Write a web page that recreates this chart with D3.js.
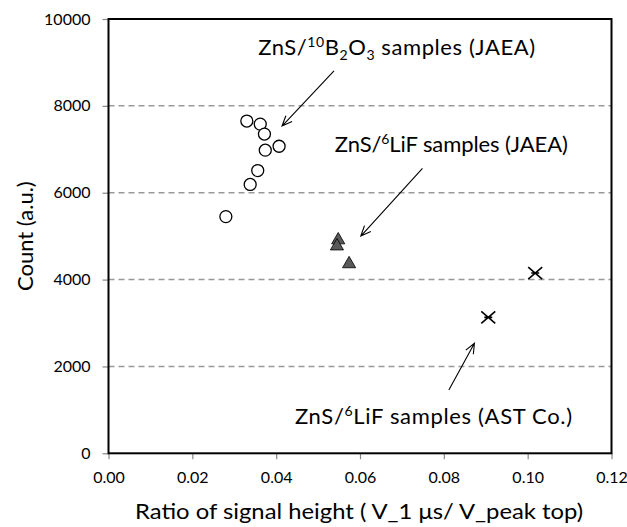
<!DOCTYPE html>
<html>
<head>
<meta charset="utf-8">
<script src="https://cdn.jsdelivr.net/npm/d3@7"></script>
<style>
  body { margin: 0; background: #fff; }
  svg text { font-family: Lato, "Open Sans", sans-serif; fill: #000; }
</style>
</head>
<body>
<svg id="chart" width="627" height="527"></svg>
<script>
// Scatter: signal height ratio vs count for three sample groups

const xTicks = [0, 0.02, 0.04, 0.06, 0.08, 0.10, 0.12];
const yTicks = [0, 2000, 4000, 6000, 8000, 10000];

// ZnS/10B2O3 samples (JAEA) - open circles
const b2o3X = [0.0330, 0.0362, 0.0372, 0.0374, 0.0407, 0.0356, 0.0338, 0.0280];
const b2o3Y = [7650, 7580, 7350, 6980, 7070, 6510, 6190, 5450];

// ZnS/6LiF samples (JAEA) - grey triangles
const lifJaeaX = [0.0548, 0.0545, 0.0574];
const lifJaeaY = [4910, 4770, 4360];

// ZnS/6LiF samples (AST Co.) - crosses
const astX = [0.0906, 0.1018];
const astY = [3130, 4150];

const width = 627, height = 527;
const margin = {top: 19, right: 15.5, bottom: 73.7, left: 108.5};

const svg = d3.select("#chart");

const x = d3.scaleLinear()
  .domain([0, 0.12])
  .range([margin.left, width - margin.right]);

const y = d3.scaleLinear()
  .domain([0, 10000])
  .range([height - margin.bottom, margin.top]);

// dashed gridlines
svg.append("g")
  .selectAll("line")
  .data(yTicks.filter(d => d > 0 && d < 10000))
  .join("line")
  .attr("x1", x(0))
  .attr("x2", x(0.12))
  .attr("y1", d => y(d))
  .attr("y2", d => y(d))
  .attr("stroke", "#999")
  .attr("stroke-width", 1.5)
  .attr("stroke-dasharray", "6,4");

// axes
const xAxis = svg.append("g")
  .attr("transform", `translate(0,${y(0)})`)
  .call(d3.axisBottom(x).tickValues(xTicks).tickFormat(d3.format(".2f")).tickSize(6).tickPadding(12));

const yAxis = svg.append("g")
  .attr("transform", `translate(${x(0)},0)`)
  .call(d3.axisLeft(y).tickValues(yTicks).tickFormat(d3.format("d")).tickSize(6).tickPadding(12));

[xAxis, yAxis].forEach(a => {
  a.select(".domain").remove();
  a.selectAll(".tick line").attr("stroke", "#888").attr("stroke-width", 1.2);
  a.selectAll(".tick text").style("font-size", "16px").style("font-family", "Lato, sans-serif").attr("fill", "#000");
});

// plot frame
svg.append("rect")
  .attr("x", x(0))
  .attr("y", y(10000))
  .attr("width", x(0.12) - x(0))
  .attr("height", y(0) - y(10000))
  .attr("fill", "none")
  .attr("stroke", "#000")
  .attr("stroke-width", 2);

// axis labels
svg.append("text")
  .attr("x", 135)
  .attr("y", 519)
  .attr("textLength", 448)
  .attr("lengthAdjust", "spacingAndGlyphs")
  .style("font-size", "22px")
  .text("Ratio of signal height ( V_1 \u03bcs/ V_peak top)");

svg.append("text")
  .attr("transform", "rotate(-90)")
  .attr("x", -(y(0) + y(10000)) / 2)
  .attr("y", 33)
  .attr("text-anchor", "middle")
  .style("font-size", "22px")
  .text("Count (a.u.)");

// markers
const g = svg.append("g");

g.selectAll("circle")
  .data(d3.zip(b2o3X, b2o3Y))
  .join("circle")
  .attr("cx", d => x(d[0]))
  .attr("cy", d => y(d[1]))
  .attr("r", 6)
  .attr("fill", "#fff")
  .attr("stroke", "#000")
  .attr("stroke-width", 1.3);

const tri = d3.symbol().type(d3.symbolTriangle).size(75);
g.selectAll("path.tri")
  .data(d3.zip(lifJaeaX, lifJaeaY))
  .join("path")
  .attr("class", "tri")
  .attr("transform", d => `translate(${x(d[0])},${y(d[1])})`)
  .attr("d", tri)
  .attr("fill", "#595959")
  .attr("stroke", "#000")
  .attr("stroke-width", 0.8);

const crosses = g.selectAll("g.cross")
  .data(d3.zip(astX, astY))
  .join("g")
  .attr("class", "cross")
  .attr("transform", d => `translate(${x(d[0])},${y(d[1])})`);
crosses.append("path")
  .attr("d", "M-7,-6L7,6M-7,6L7,-6M-4,0L4,0")
  .attr("stroke", "#000")
  .attr("stroke-width", 1.6)
  .attr("fill", "none");

// annotations (positions in data units)
const arrows = [
  {from: [0.0538, 8803], to: [0.0414, 7536]},
  {from: [0.0749, 6562], to: [0.0602, 5003]},
  {from: [0.0812, 1458], to: [0.0873, 2533]}
];

arrows.forEach(a => {
  const x1 = x(a.from[0]), y1 = y(a.from[1]);
  const x2 = x(a.to[0]), y2 = y(a.to[1]);
  const ang = Math.atan2(y2 - y1, x2 - x1);
  const hl = 11, ha = 0.4;
  const p1 = [x2 - hl * Math.cos(ang - ha), y2 - hl * Math.sin(ang - ha)];
  const p2 = [x2 - hl * Math.cos(ang + ha), y2 - hl * Math.sin(ang + ha)];
  svg.append("path")
    .attr("d", `M${x1},${y1}L${x2},${y2}M${p1[0]},${p1[1]}L${x2},${y2}L${p2[0]},${p2[1]}`)
    .attr("stroke", "#000")
    .attr("stroke-width", 1.1)
    .attr("fill", "none");
});

function label(px, py, len, parts) {
  const t = svg.append("text")
    .attr("x", x(px))
    .attr("y", y(py))
    .attr("textLength", len)
    .attr("lengthAdjust", "spacing")
    .style("font-size", "22px");
  let shift = 0;
  parts.forEach(p => {
    const s = t.append("tspan").text(p[0]);
    const want = p[1] === "sup" ? -8 : p[1] === "sub" ? 5 : 0;
    if (want !== shift) s.attr("dy", want - shift);
    shift = want;
    if (p[1]) s.style("font-size", "14px");
  });
}

label(0.0357, 9171, 277, [["ZnS/"], ["10", "sup"], ["B"], ["2", "sub"], ["O"], ["3", "sub"], [" samples (JAEA)"]]);
label(0.0540, 6945, 233, [["ZnS/"], ["6", "sup"], ["LiF samples (JAEA)"]]);
label(0.0445, 675, 277, [["ZnS/"], ["6", "sup"], ["LiF samples (AST Co.)"]]);
</script>
</body>
</html>
